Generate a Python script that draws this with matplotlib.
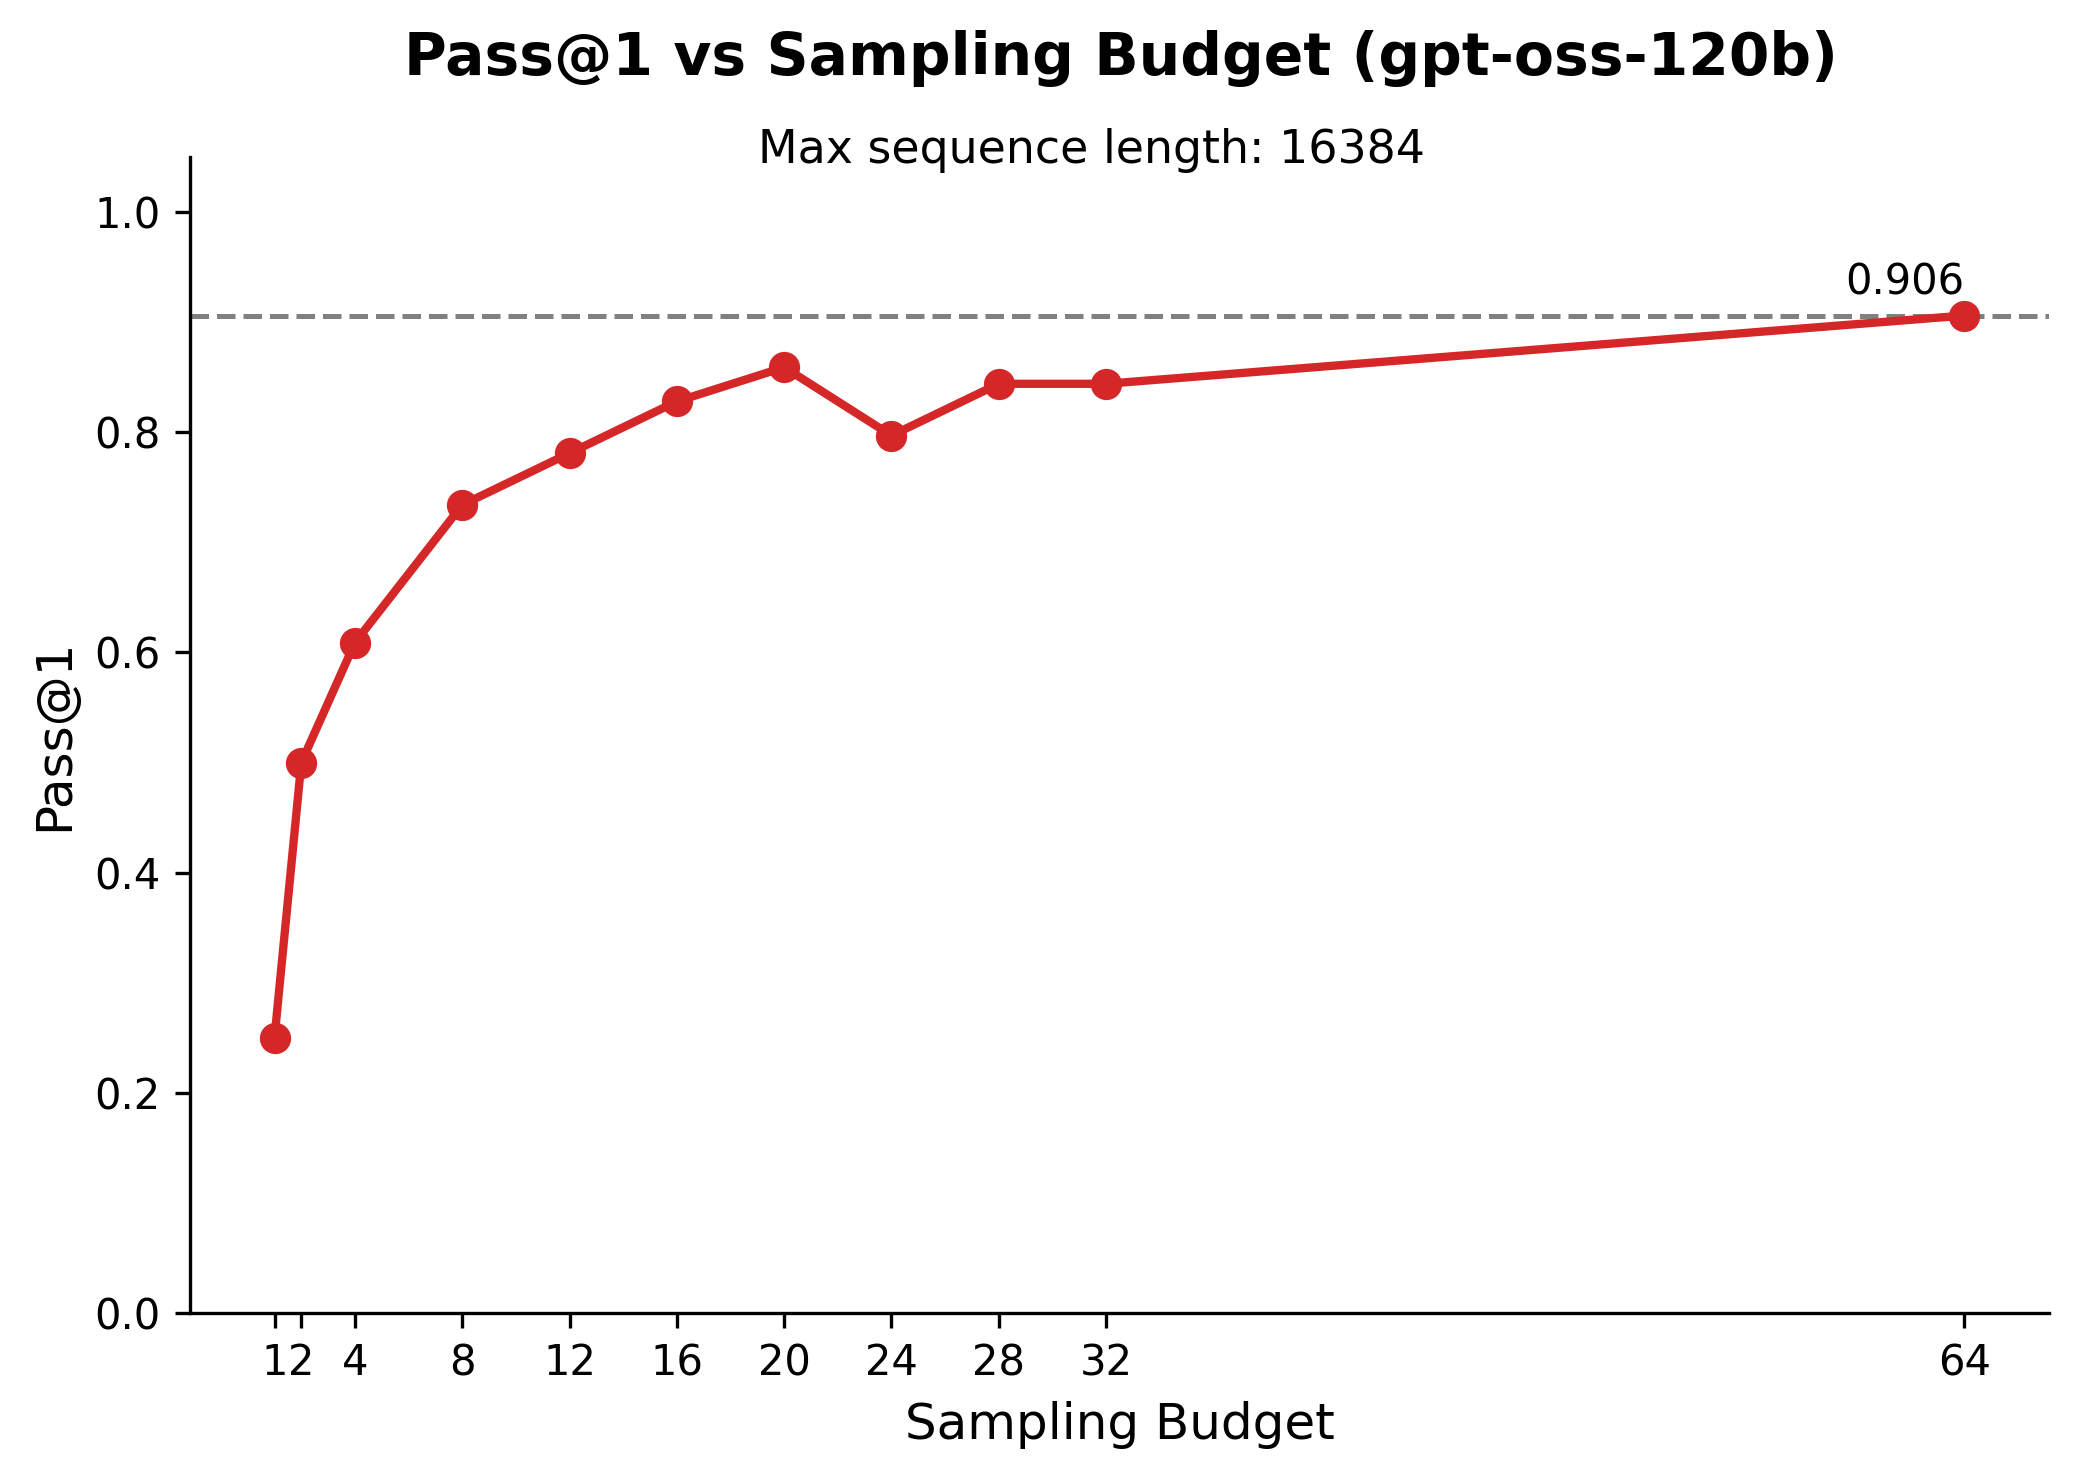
import matplotlib
matplotlib.use("Agg")
import matplotlib.pyplot as plt

budgets = [1, 2, 4, 8, 12, 16, 20, 24, 28, 32, 64]
pass_at_1 = [0.25, 0.50, 0.609, 0.734, 0.781, 0.828, 0.859, 0.797, 0.844, 0.844, 0.906]
best_value = 0.906

title = "Pass@1 vs Sampling Budget (gpt-oss-120b)"
subtitle = "Max sequence length: 16384"

W, H, DPI = 2080, 1479, 300
fig = plt.figure(figsize=(W / DPI, H / DPI), dpi=DPI)
ax = fig.add_axes([190 / W, 1 - 1313 / H, (2049 - 190) / W, (1313 - 157) / H])

ax.axhline(best_value, color="gray", linestyle="--", linewidth=1.2)
ax.plot(budgets, pass_at_1, color="#d62728", linewidth=2.0, marker="o", markersize=6.5)
ax.annotate(f"{best_value:.3f}", xy=(budgets[-1], pass_at_1[-1]), xytext=(0, 5),
            textcoords="offset points", ha="right", va="baseline", fontsize=10)

ax.set_ylim(0, 1.05)
ax.set_xticks(budgets)
ax.set_xticklabels([str(b) for b in budgets])
ax.tick_params(labelsize=10)
ax.set_xlabel("Sampling Budget", fontsize=12)
ax.set_ylabel("Pass@1", fontsize=12)
ax.spines["top"].set_visible(False)
ax.spines["right"].set_visible(False)

fig.text(1121 / W, 1 - 75 / H, title, ha="center", va="baseline", fontsize=14, fontweight="bold")
fig.text(1092 / W, 1 - 163 / H, subtitle, ha="center", va="baseline", fontsize=11)

fig.savefig("out.png", dpi=DPI)
